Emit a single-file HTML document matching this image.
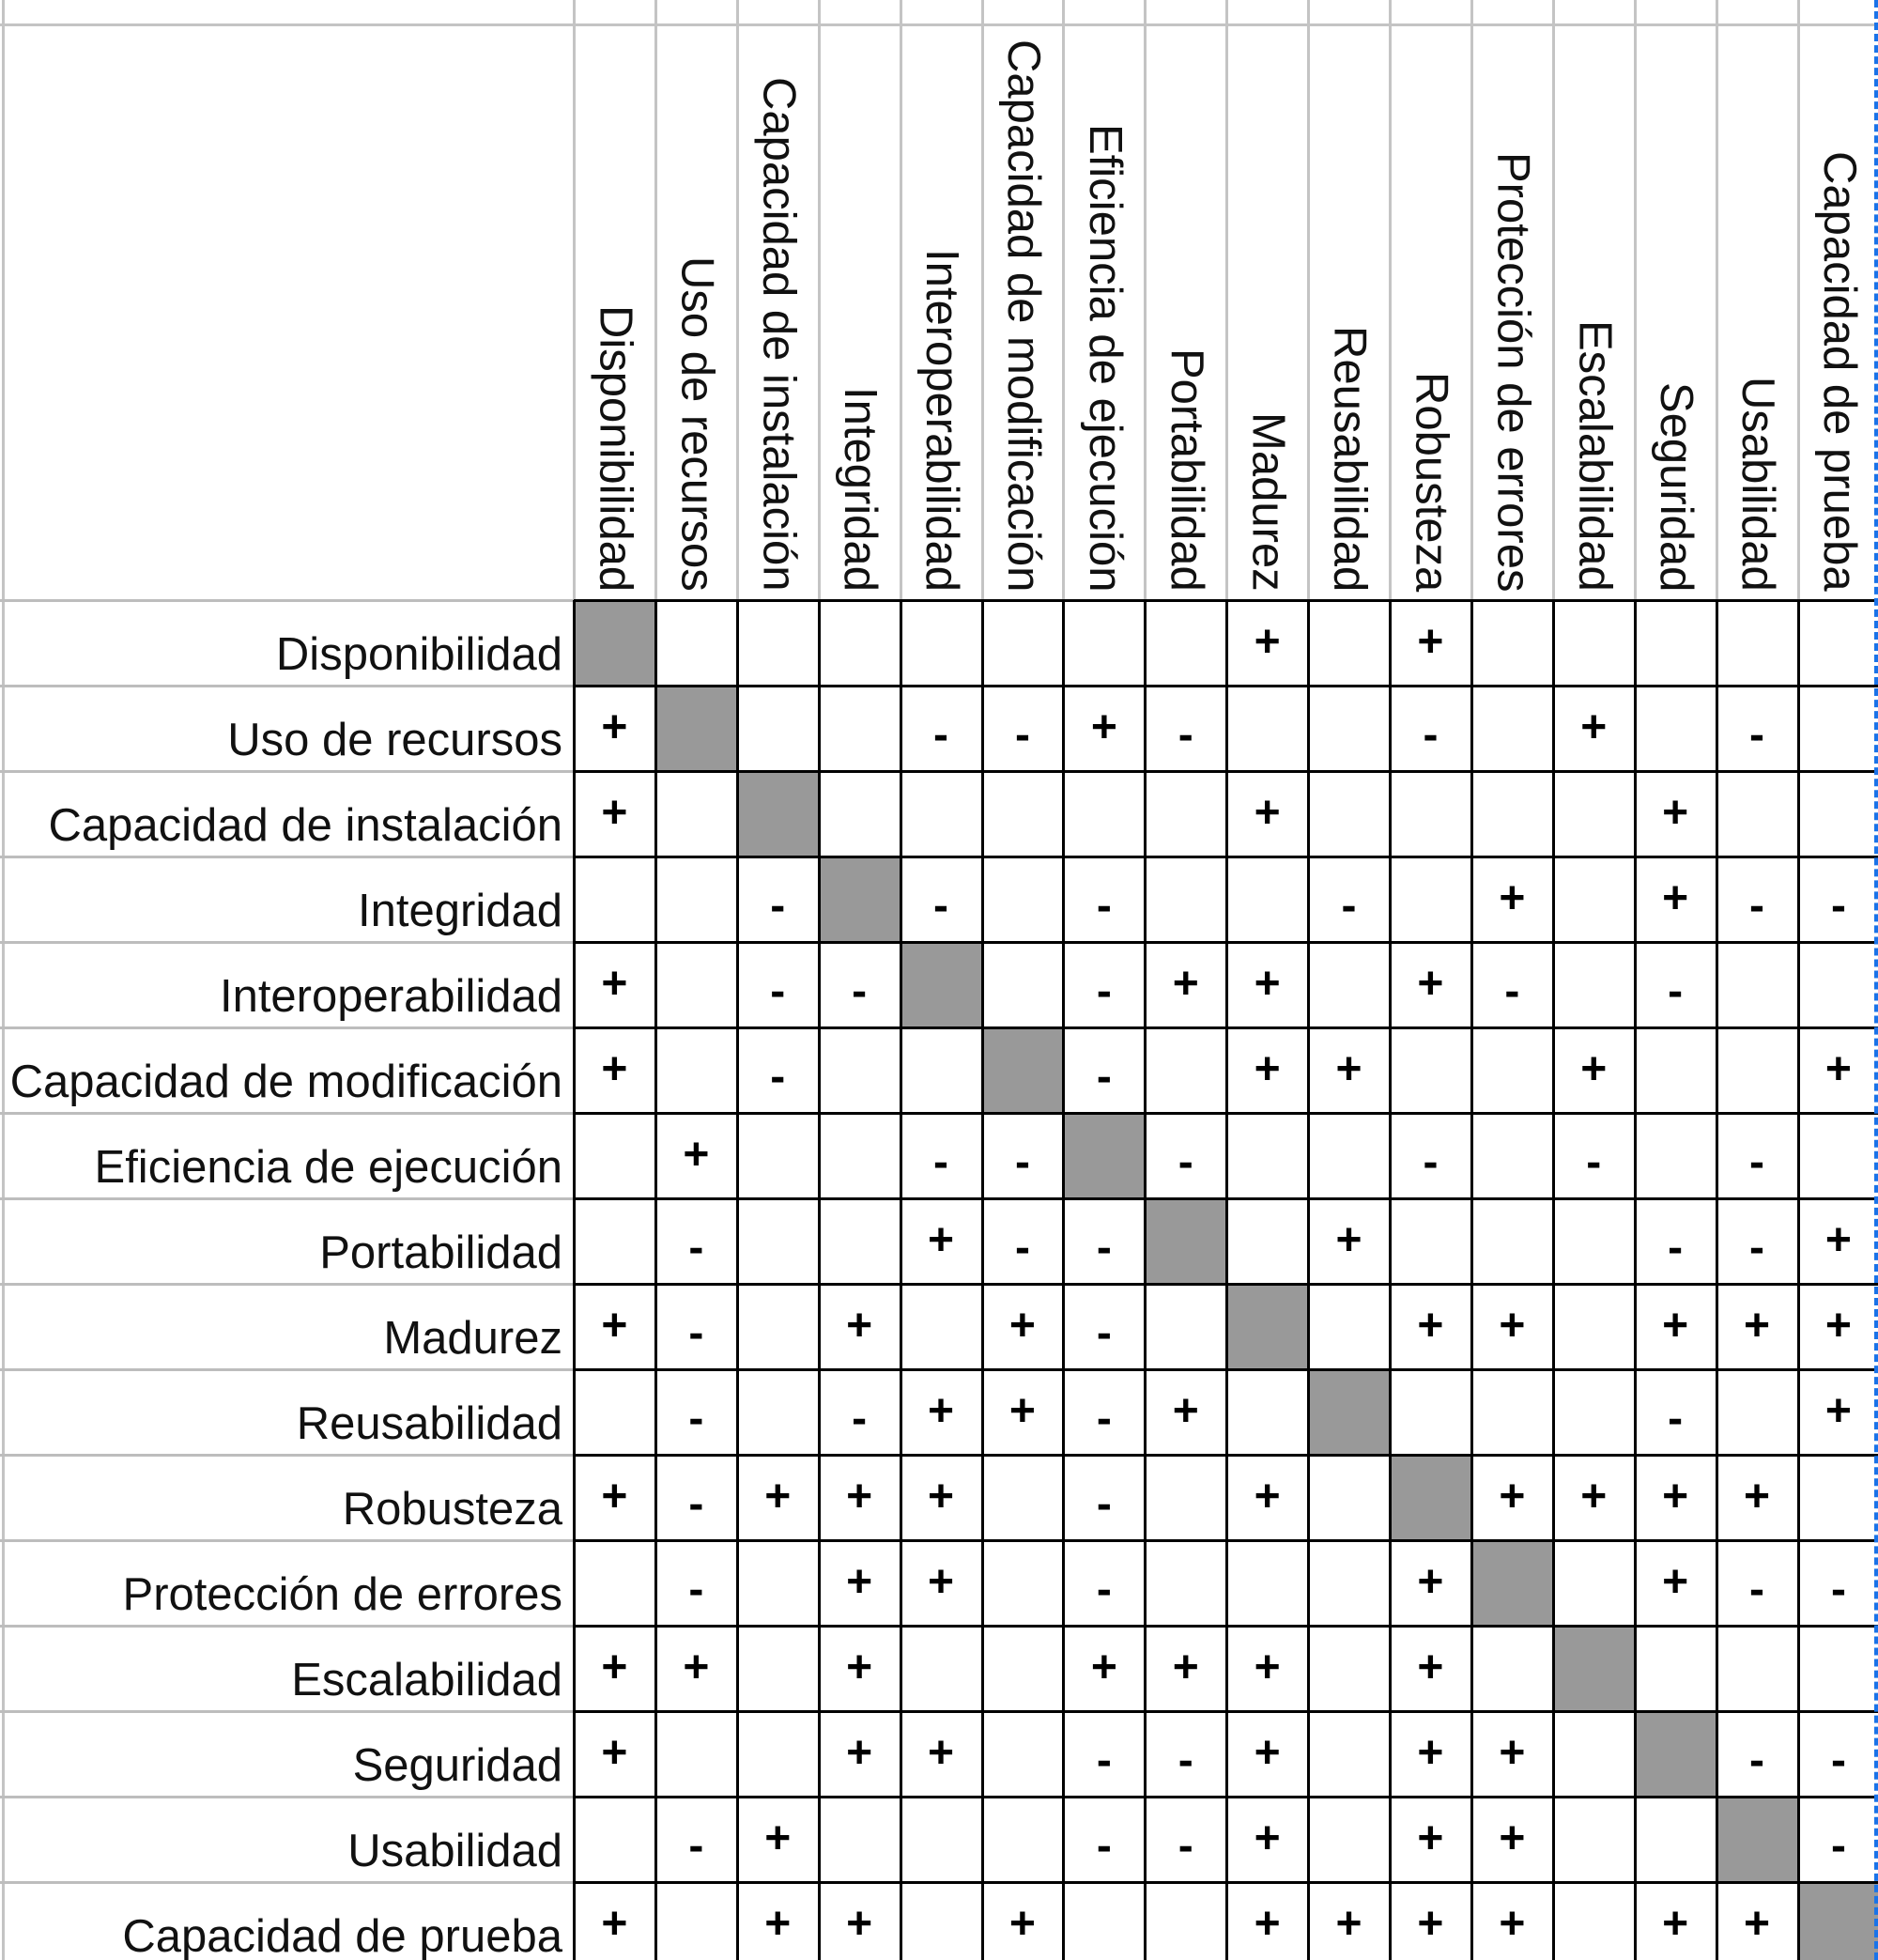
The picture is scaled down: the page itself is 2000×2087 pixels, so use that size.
<!DOCTYPE html>
<html><head><meta charset="utf-8"><style>
body{margin:0;background:#fff;}
#wrap{position:relative;width:2000px;height:2087px;overflow:hidden;background:#fff;font-family:"Liberation Sans",Arial,sans-serif;}
.l{position:absolute;}
.rl{position:absolute;right:1401px;font-size:49px;color:#111;text-align:right;white-space:nowrap;line-height:1;}
.ch{position:absolute;writing-mode:vertical-rl;font-size:49px;color:#111;white-space:nowrap;line-height:1;}
.cell{position:absolute;}
.sym{position:absolute;width:100%;text-align:center;font-weight:bold;font-size:48px;line-height:1;color:#000;}
</style></head><body>
<div id="wrap"></div>
<script>
const labels=["Disponibilidad","Uso de recursos","Capacidad de instalación","Integridad","Interoperabilidad","Capacidad de modificación","Eficiencia de ejecución","Portabilidad","Madurez","Reusabilidad","Robusteza","Protección de errores","Escalabilidad","Seguridad","Usabilidad","Capacidad de prueba"];
const matrix=[
"D.......+.+.....",
"+D..--+-..-.+.-.",
"+.D.....+....+..",
"..-D-.-..-.+.+--",
"+.--D.-++.+-.-..",
"+.-..D-.++..+..+",
".+..--D-..-.-.-.",
".-..+--D.+...--+",
"+-.+.+-.D.++.+++",
".-.-++-+.D...-.+",
"+-+++.-.+.D++++.",
".-.++.-...+D.+--",
"++.+..+++.+.D...",
"+..++.--+.++.D--",
".-+...--+.++..D-",
"+.++.+..++++.++D"];
const X0=611,CW=86.9,Y0=639,RH=91,HT=26;
const wrap=document.getElementById('wrap');
function line(x,y,w,h,c,name){const d=document.createElement('div');d.className='l';d.style.cssText=`left:${x}px;top:${y}px;width:${w}px;height:${h}px;background:${c}`;


wrap.appendChild(d);}
line(0,HT-1,2000,3,'#c4c4c4','header-top-line');
line(2,0,3,2087,'#c4c4c4','left-border');
for(let i=0;i<=16;i++){line(Math.round(X0+i*CW)-1,0,3,Y0,'#c4c4c4','header-column-line');}
for(let j=0;j<=16;j++){line(0,Math.round(Y0+j*RH)-1,X0,3,'#bdbdbd','label-row-line');}
for(let j=0;j<16;j++){for(let i=0;i<16;i++){
 const v=matrix[j][i];
 const c=document.createElement('div');c.className='cell';
 c.style.cssText=`left:${X0+i*CW}px;top:${Y0+j*RH}px;width:${CW}px;height:${RH}px;background:${v==='D'?'#999':'#fff'}`;
 
 
 if(v==='+'||v==='-'){const s=document.createElement('div');s.className='sym';s.textContent=v;
  s.style.top=(v==='+'?21:29)+'px';
  
  
  c.appendChild(s);}
 wrap.appendChild(c);}}
for(let i=0;i<=16;i++){line(Math.round(X0+i*CW)-1,Y0,3,2087-Y0,'#000','grid-column-line');}
for(let j=0;j<=16;j++){line(X0,Math.round(Y0+j*RH)-1,2000-X0,3,'#000','grid-row-line');}
labels.forEach((t,j)=>{const d=document.createElement('div');d.className='rl';d.textContent=t;d.style.top=(Y0+j*RH+RH-57)+'px';
 
 
 wrap.appendChild(d);
 const h=document.createElement('div');h.className='ch';h.textContent=t;
 h.style.left=(X0+j*CW+CW/2-24)+'px';h.style.bottom=(2087-Y0+9)+'px';
 
 
 wrap.appendChild(h);});
const b=document.createElement('div');b.style.cssText='position:absolute;left:1996px;top:0;width:0;height:2087px;border-left:4px dashed #1a73e8';


wrap.appendChild(b);
</script>
</body></html>
